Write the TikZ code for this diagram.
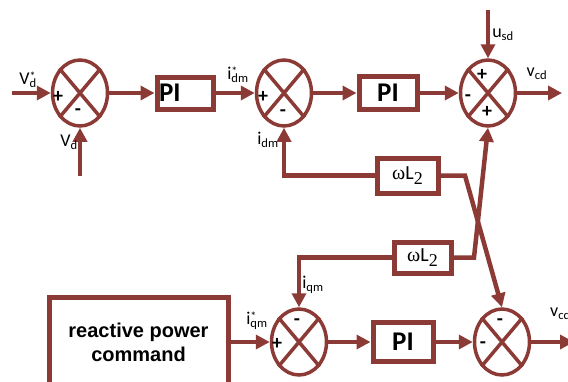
\documentclass[tikz,border=0pt]{standalone}
\usepackage{fontspec}
\setmainfont{Carlito}
\setsansfont{Carlito}
\newfontfamily\tnr{Liberation Serif}
\newfontfamily\arialfont{Liberation Sans}
\usetikzlibrary{positioning}
\usetikzlibrary{shapes.geometric, arrows.meta}
\definecolor{ctrl}{RGB}{140,58,54}
\newcommand{\sigsub}[2]{#1\textsubscript{#2}}
\newcommand{\sigref}[2]{#1\rlap{\raisebox{4pt}{\fontsize{12}{12}\selectfont *}}\textsubscript{#2}}
\tikzstyle{sumj} = [ellipse, 
draw=ctrl, 
line width=3.5pt,
minimum width=55pt, 
minimum height=66pt,
inner sep=0pt]
\tikzstyle{block} = [rectangle, 
draw=ctrl, 
line width=5pt,
inner sep=0pt,
text centered,
font=\bfseries\fontsize{27}{29}\selectfont]
\tikzstyle{wblock} = [rectangle, 
draw=ctrl, 
line width=5pt,
inner sep=0pt,
text centered,
font=\fontsize{20}{22}\selectfont]
\tikzstyle{cmdblock} = [rectangle, 
draw=ctrl, 
line width=5pt,
minimum width=179pt,
minimum height=90pt,
align=center,
font=\arialfont\bfseries\fontsize{20}{24}\selectfont]
\tikzstyle{arrow} = [draw=ctrl, line width=4.5pt, -{Triangle[length=14pt,width=14pt]}]
\tikzstyle{xline} = [draw=ctrl, line width=3.5pt]
\tikzstyle{lbl} = [inner sep=0pt, font=\fontsize{18}{20}\selectfont]
\tikzstyle{sgn} = [inner sep=0pt, font=\bfseries\fontsize{20}{22}\selectfont]

\begin{document}
\begin{tikzpicture}[x=1pt, y=-1pt, node distance=102pt]
    \useasboundingbox (0,0) rectangle (568,381);
    % d-axis
    \node (s1) [sumj] at (80,93) {};
    \node (pi1) [block, right of=s1, xshift=3pt, minimum height=32pt, text width=52pt, align=left, inner xsep=2pt] {PI};
    \node (s2) [sumj, right of=pi1, xshift=-3pt] {};
    \node (pi2) [block, right of=s2, xshift=2pt, minimum width=58pt, minimum height=33pt] {PI};
    \node (s3) [sumj, right of=pi2, xshift=-2pt] {};
    % q-axis
    \node (s5) [sumj] at (299,342) {};
    \node (pi3) [block, right of=s5, xshift=2pt, minimum width=60pt, minimum height=39pt] {PI};
    \node (s6) [sumj, right of=pi3, xshift=-3pt] {};
    \node (cmd) [cmdblock] at (138.5,342) {reactive power\\command};
    % cross coupling
    \node (wl1) [wblock, minimum width=61pt, minimum height=35pt] at (407.5,175.5) {{\tnr ω}L\raisebox{-5pt}{\tnr\fontsize{18}{20}\selectfont 2}};
    \node (wl2) [wblock, minimum width=57pt, minimum height=31pt] at (422.5,257.5) {{\tnr ω}L\raisebox{-5pt}{\tnr\fontsize{18}{20}\selectfont 2}};

    \coordinate (vdin) at (12,93);
    \coordinate (vdb) at (80,176);
    \coordinate (usd) at (488,10);
    \coordinate (vcd) at (562,93);
    \coordinate (vcq) at (574,342);
    \coordinate (bend1) at (465,175.5);
    \coordinate (bend2) at (474,257.5);

    % X in the junctions
    \draw [xline] (s1.north west) -- (s1.south east) (s1.north east) -- (s1.south west);
    \draw [xline] (s2.north west) -- (s2.south east) (s2.north east) -- (s2.south west);
    \draw [xline] (s3.north west) -- (s3.south east) (s3.north east) -- (s3.south west);
    \draw [xline] (s5.north west) -- (s5.south east) (s5.north east) -- (s5.south west);
    \draw [xline] (s6.north west) -- (s6.south east) (s6.north east) -- (s6.south west);

    \node (s1p) [sgn] at ([shift={(-22,4)}]s1.center) {+};
    \node (s1m) [sgn] at ([shift={(-2,19)}]s1.center) {-};
    \node (s2p) [sgn] at ([shift={(-21,4)}]s2.center) {+};
    \node (s2m) [sgn] at ([shift={(-1,20)}]s2.center) {-};
    \node (s3pt) [sgn] at ([shift={(-6,-18)}]s3.center) {+};
    \node (s3m) [sgn] at ([shift={(-20,5)}]s3.center) {-};
    \node (s3pb) [sgn] at ([shift={(-1,19)}]s3.center) {+};
    \node (s5m) [sgn] at ([shift={(-2,-20)}]s5.center) {-};
    \node (s5p) [sgn] at ([shift={(-22,2)}]s5.center) {+};
    \node (s6mt) [sgn] at ([shift={(-2,-20)}]s6.center) {-};
    \node (s6ml) [sgn] at ([shift={(-19,3)}]s6.center) {-};

    \draw [arrow] (vdin) -- (s1.west);
    \draw [arrow] (vdb) -- (s1.south);
    \draw [arrow] (s1) -- (pi1);
    \draw [arrow] (pi1) -- (s2);
    \draw [arrow] (s2) -- (pi2);
    \draw [arrow] (pi2) -- (s3);
    \draw [arrow] (usd) -- (s3.north);
    \draw [arrow] (s3) -- (vcd);
    \draw [arrow] (wl1.west) -| (s2.south);
    \draw [arrow] (wl1.east) -- (bend1) -- (s6.north);
    \draw [arrow] (wl2.east) -- (bend2) -- (s3.south);
    \draw [arrow] (wl2.west) -| (s5.north);
    \draw [arrow] (cmd) -- (s5);
    \draw [arrow] (s5) -- (pi3);
    \draw [arrow] (pi3) -- (s6);
    \draw [arrow] (s6) -- (vcq);

    \node (lvds) [lbl] at (28,80) {\sigref{V}{d}};
    \node (lvd) [lbl] at (69,142) {\sigsub{V}{d}};
    \node (lids) [lbl] at (238,75) {\sigref{i}{dm}};
    \node (lid) [lbl] at (268,140) {\sigsub{i}{dm}};
    \node (lusd) [lbl] at (503,35) {\sigsub{u}{sd}};
    \node (lvcd) [lbl] at (537,74) {\sigsub{v}{cd}};
    \node (liq) [lbl] at (313,285) {\sigsub{i}{qm}};
    \node (liqs) [lbl] at (257,321) {\sigref{i}{qm}};
    \node (lvcq) [lbl, anchor=west] at (550,315) {\sigsub{v}{cq}};
\end{tikzpicture}
\end{document}
